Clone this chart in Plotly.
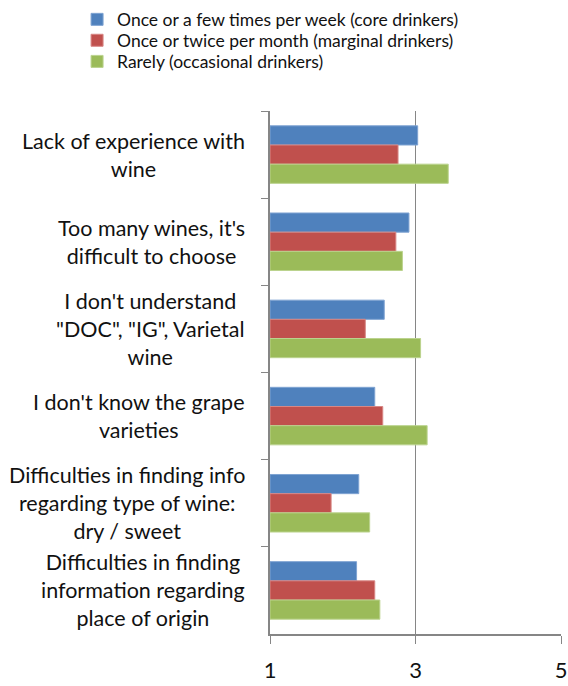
import plotly.graph_objects as go

# Barriers to wine purchase, mean score (1-5) by drinker type
categories = [
    "Lack of experience with<br>wine",
    "Too many wines, it's<br>difficult to choose",
    "I don't understand<br>\"DOC\", \"IG\", Varietal<br>wine",
    "I don't know the grape<br>varieties",
    "Difficulties in finding info<br>regarding type of wine:<br>dry / sweet",
    "Difficulties in finding<br>information regarding<br>place of origin",
]
cat_keys = [f"c{i}" for i in range(len(categories))]

core = [3.03, 2.91, 2.57, 2.44, 2.22, 2.19]
marginal = [2.76, 2.73, 2.31, 2.55, 1.84, 2.44]
occasional = [3.45, 2.82, 3.07, 3.16, 2.37, 2.51]

series = [
    ("Once or a few times per week (core drinkers)", core, "#4F81BD", "#7FA3D2"),
    ("Once or twice per month (marginal drinkers)", marginal, "#C0504D", "#D88785"),
    ("Rarely (occasional drinkers)", occasional, "#9BBB59", "#BBD38E"),
]

FONT = "Lato, Open Sans, sans-serif"
AXIS = "#868686"
# one legend per series so the rows can sit as tight as in the original
legend_ids = ["legend", "legend2", "legend3"]
legend_y = [1.175, 1.135, 1.0946]

fig = go.Figure()
for (name, vals, col, edge), lid in zip(series, legend_ids):
    fig.add_trace(go.Bar(
        y=cat_keys, x=[v - 1 for v in vals], base=1, orientation="h",
        name=name, legend=lid,
        marker=dict(color=col, line=dict(color=edge, width=1)),
    ))

for key, label in zip(cat_keys, categories):
    fig.add_annotation(
        x=0, xref="paper", xanchor="right", xshift=-23,
        y=key, yref="y", text=label, showarrow=False, align="center",
        font=dict(family=FONT, size=21.5, color="#111"),
    )

legend_style = dict(
    x=-0.663, xanchor="left", yanchor="middle",
    font=dict(family=FONT, size=17.5, color="#111"),
    itemwidth=30, bgcolor="rgba(0,0,0,0)",
)

fig.update_layout(
    width=568, height=686,
    paper_bgcolor="white", plot_bgcolor="white",
    margin=dict(l=270, r=7, t=111, b=52, autoexpand=False),
    barmode="group", bargap=0.34, bargroupgap=0,
    font=dict(family=FONT, color="#111"),
    showlegend=True,
    legend=dict(y=legend_y[0], **legend_style),
    legend2=dict(y=legend_y[1], **legend_style),
    legend3=dict(y=legend_y[2], **legend_style),
)
fig.update_xaxes(
    range=[1, 5], tickvals=[1, 3, 5], showgrid=True, gridcolor=AXIS, gridwidth=1,
    showline=True, linecolor=AXIS, linewidth=1.5, zeroline=False,
    ticks="outside", ticklen=8, tickcolor=AXIS, ticklabelstandoff=8,
    tickfont=dict(family=FONT, size=22, color="#111"),
)
fig.update_yaxes(
    type="category", autorange="reversed", tickson="boundaries",
    showticklabels=False, showgrid=False,
    showline=True, linecolor=AXIS, linewidth=1.5,
    ticks="outside", ticklen=7, tickcolor=AXIS,
)

# drop the default 8px page margin so the figure fills the window exactly
fig.write_html(
    "out.html",
    config={"displayModeBar": False},
    post_script="document.body.style.margin = '0';",
)
